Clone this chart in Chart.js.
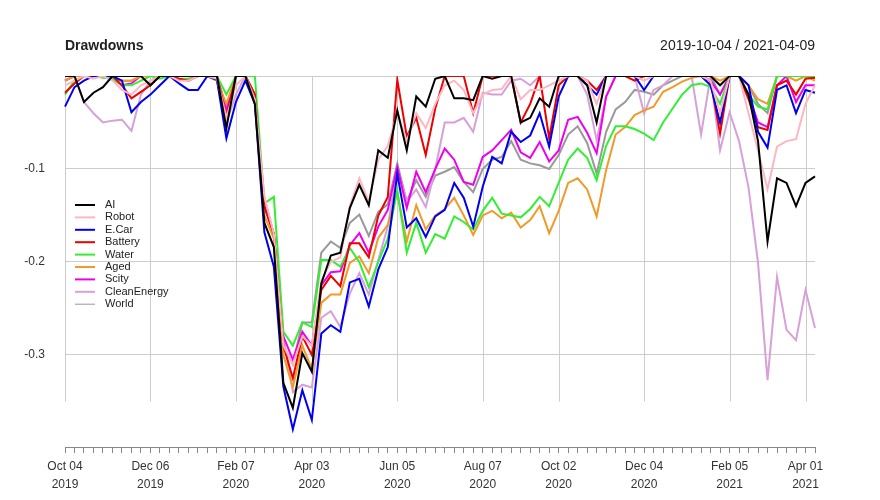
<!DOCTYPE html>
<html><head><meta charset="utf-8">
<script src="https://cdn.jsdelivr.net/npm/chart.js@4/dist/chart.umd.min.js"></script>
<style>html,body{margin:0;padding:0;background:#fff}#wrap{width:880px;height:500px}</style>
</head><body><div id="wrap"><canvas id="c" width="880" height="500"></canvas></div>
<script>
const weeks = Array.from({length:80},(_,i)=>i);
const tickIdx = [0,9,18,26,35,44,52,61,70,78];
const tickLabels = [['Oct 04','2019'],['Dec 06','2019'],['Feb 07','2020'],['Apr 03','2020'],['Jun 05','2020'],['Aug 07','2020'],['Oct 02','2020'],['Dec 04','2020'],['Feb 05','2021'],['Apr 01','2021']];
const seriesNames = ['AI','Robot','E.Car','Battery','Water','Aged','Scity','CleanEnergy','World'];
const AI = [0,0,-0.028,-0.018,-0.012,0,0,0,0,-0.01,
 0,0,0,0,0,0,0,-0.056,0,0,
 -0.03,-0.158,-0.184,-0.33,-0.357,-0.298,-0.318,-0.223,-0.193,-0.19,
 -0.142,-0.117,-0.139,-0.08,-0.088,-0.037,-0.08,-0.022,-0.033,-0.003,
 0,-0.024,-0.024,-0.026,0,-0.003,0,0,-0.05,-0.045,
 -0.024,-0.033,0,0,0,-0.01,-0.05,0,0,0,
 0,0,0,0,0,0,0,0,0,-0.01,
 0,0,-0.02,-0.07,-0.178,-0.11,-0.115,-0.14,-0.115,-0.108];
const Robot = [-0.01,-0.005,0,-0.003,0,-0.005,-0.015,-0.02,-0.01,-0.005,
 0,0,-0.005,-0.005,0,0,-0.003,-0.045,-0.01,0,
 -0.025,-0.13,-0.17,-0.29,-0.31,-0.28,-0.29,-0.22,-0.2,-0.195,
 -0.14,-0.11,-0.135,-0.09,-0.075,-0.04,-0.07,-0.04,-0.056,-0.03,
 -0.01,-0.005,-0.015,-0.04,-0.02,-0.015,-0.014,0,-0.025,-0.015,
 -0.015,-0.01,-0.005,0,0,-0.005,-0.03,0,0,0,
 0,-0.005,0,0,0,0,0,0,-0.005,-0.04,
 0,0,-0.04,-0.08,-0.122,-0.076,-0.07,-0.068,-0.03,-0.01];
const ECar = [-0.033,-0.012,-0.005,0,0,0,-0.005,-0.039,-0.028,-0.02,
 -0.01,0,-0.008,-0.015,-0.015,0,-0.004,-0.067,-0.028,-0.005,
 -0.03,-0.168,-0.205,-0.334,-0.38,-0.338,-0.37,-0.277,-0.268,-0.275,
 -0.222,-0.218,-0.248,-0.208,-0.184,-0.105,-0.163,-0.153,-0.173,-0.151,
 -0.144,-0.115,-0.131,-0.162,-0.119,-0.087,-0.094,-0.06,-0.071,-0.064,
 -0.04,-0.076,-0.022,0,0,-0.01,-0.02,0,0,0,
 0,-0.015,0,0,0,0,0,0,-0.01,-0.05,
 0,0,-0.01,-0.06,-0.077,-0.015,-0.01,-0.04,-0.015,-0.018];
const Battery = [-0.018,-0.008,0,0,0,0,-0.01,-0.024,-0.017,-0.01,
 0,0,-0.003,-0.005,0,0,0,-0.044,0,0,
 -0.02,-0.14,-0.17,-0.29,-0.325,-0.28,-0.3,-0.23,-0.215,-0.226,
 -0.18,-0.18,-0.195,-0.15,-0.13,-0.004,-0.065,-0.045,-0.085,-0.035,
 0,0,0,-0.04,0,0,0,0,-0.05,-0.03,
 0,-0.067,-0.01,0,0,-0.005,-0.015,0,0,0,
 -0.005,0,0,0,0,0,0,0,-0.005,-0.062,
 0,0,-0.025,-0.055,-0.058,-0.01,-0.005,-0.02,-0.003,-0.002];
const Water = [-0.02,-0.005,0,0,-0.002,-0.003,-0.01,-0.01,-0.005,0,
 -0.003,0,-0.003,-0.003,0,0,0,-0.02,0,0,
 0,-0.137,-0.13,-0.275,-0.29,-0.265,-0.27,-0.198,-0.198,-0.205,
 -0.185,-0.2,-0.227,-0.2,-0.175,-0.123,-0.19,-0.158,-0.19,-0.17,
 -0.175,-0.151,-0.157,-0.165,-0.145,-0.131,-0.148,-0.15,-0.152,-0.143,
 -0.13,-0.14,-0.115,-0.09,-0.078,-0.088,-0.112,-0.075,-0.054,-0.054,
 -0.057,-0.062,-0.069,-0.05,-0.035,-0.02,-0.01,-0.008,-0.012,-0.03,
 0,0,-0.02,-0.033,-0.036,0,0,0,0,0];
const Aged = [-0.005,0,0,0,0,-0.003,-0.005,-0.005,0,0,
 0,0,0,0,0,0,-0.005,-0.03,0,0,
 -0.02,-0.15,-0.175,-0.3,-0.335,-0.29,-0.315,-0.244,-0.235,-0.235,
 -0.201,-0.194,-0.212,-0.174,-0.16,-0.126,-0.178,-0.139,-0.165,-0.15,
 -0.143,-0.131,-0.15,-0.171,-0.15,-0.145,-0.153,-0.147,-0.163,-0.155,
 -0.14,-0.169,-0.145,-0.115,-0.11,-0.122,-0.151,-0.101,-0.063,-0.055,
 -0.042,-0.037,-0.033,-0.017,-0.012,-0.006,-0.002,0,0,-0.005,
 0,0,-0.01,-0.025,-0.03,0,0,-0.005,0,-0.005];
const Scity = [-0.005,0,0,0,0,-0.003,-0.01,-0.008,0,0,
 0,0,0,0,0,0,0,-0.035,0,0,
 -0.02,-0.14,-0.17,-0.28,-0.305,-0.275,-0.29,-0.225,-0.211,-0.21,
 -0.182,-0.169,-0.19,-0.162,-0.144,-0.098,-0.142,-0.103,-0.125,-0.1,
 -0.078,-0.09,-0.114,-0.117,-0.087,-0.08,-0.069,-0.058,-0.082,-0.088,
 -0.071,-0.092,-0.08,-0.047,-0.044,-0.061,-0.083,-0.022,0,0,
 0,0,0,0,0,0,0,0,-0.005,-0.02,
 0,0,-0.02,-0.05,-0.055,-0.01,0,-0.028,-0.01,-0.01];
const CleanEnergy = [-0.005,0,-0.028,-0.04,-0.05,-0.048,-0.047,-0.059,-0.02,-0.005,
 0,0,0,0,0,0,-0.005,-0.05,-0.02,0,
 -0.03,-0.13,-0.17,-0.28,-0.34,-0.332,-0.335,-0.26,-0.253,-0.27,
 -0.234,-0.212,-0.235,-0.198,-0.162,-0.1,-0.135,-0.122,-0.141,-0.1,
 -0.05,-0.05,-0.045,-0.06,-0.018,-0.02,-0.02,-0.005,-0.003,-0.01,
 0,0,0,0,0,-0.02,-0.069,-0.022,0,0,
 0,-0.04,-0.015,-0.01,0,0,0,-0.063,0,-0.08,
 -0.039,-0.07,-0.12,-0.201,-0.327,-0.216,-0.273,-0.284,-0.23,-0.271];
const World = [-0.005,0,0,0,0,-0.003,-0.005,-0.005,0,0,
 0,0,0,0,0,0,-0.005,-0.04,0,0,
 -0.02,-0.14,-0.17,-0.29,-0.31,-0.265,-0.265,-0.19,-0.178,-0.185,
 -0.158,-0.149,-0.172,-0.146,-0.138,-0.094,-0.135,-0.112,-0.13,-0.107,
 -0.103,-0.098,-0.114,-0.125,-0.1,-0.09,-0.087,-0.07,-0.09,-0.094,
 -0.096,-0.1,-0.085,-0.063,-0.054,-0.072,-0.105,-0.06,-0.036,-0.028,
 -0.015,-0.017,-0.02,-0.01,-0.005,0,0,0,0,-0.02,
 0,0,-0.01,-0.03,-0.04,0,0,0,0,0];
const seriesData = [AI,Robot,ECar,Battery,Water,Aged,Scity,CleanEnergy,World];
const colors = ['#000000','#FFB6C1','#0000EE','#EE0000','#33EE33','#F09A2A','#EE00EE','#D8A0D8','#999999'];

const FONT = 'Liberation Sans, Arial, sans-serif';
const extras = {
  id:'extras',
  beforeDatasetsDraw(ch){
    const c=ch.ctx, xs=ch.scales.x, ys=ch.scales.y, a=ch.chartArea;
    c.save(); c.strokeStyle='#cccccc'; c.lineWidth=1;
    tickIdx.forEach(i=>{const x=Math.round(xs.getPixelForValue(i))+0.5;
      c.beginPath(); c.moveTo(x,a.top); c.lineTo(x,ys.getPixelForValue(-0.35)); c.stroke();});
    c.restore();
  },
  afterDatasetsDraw(ch){
    const c=ch.ctx;
    c.save();
    c.fillStyle='#222'; c.font='bold 14px '+FONT; c.textBaseline='alphabetic';
    c.textAlign='left'; c.fillText('Drawdowns',65,50);
    c.font='14px '+FONT; c.textAlign='right'; c.fillText('2019-10-04 / 2021-04-09',815,50);
    c.font='11px '+FONT; c.textAlign='left'; c.textBaseline='middle';
    seriesNames.forEach((n,k)=>{
      const y=205+k*12.4;
      c.strokeStyle=colors[k]; c.lineWidth = k===8?1:2;
      c.beginPath(); c.moveTo(75,y); c.lineTo(95,y); c.stroke();
      c.fillStyle='#222'; c.fillText(n,105,y);
    });
    c.restore();
  }
};

new Chart(document.getElementById('c'),{
  type:'line',
  data:{labels:weeks, datasets:seriesNames.map((n,k)=>({label:n,data:seriesData[k],borderColor:colors[k],borderWidth:2,pointRadius:0,tension:0,fill:false}))},
  options:{
    responsive:false, animation:false,
    layout:{padding:{left:10,right:65,top:76,bottom:6}},
    plugins:{legend:{display:false},tooltip:{enabled:false}},
    scales:{
      x:{type:'category',offset:false,
        afterFit(s){s.height=47;},
        grid:{display:true,drawOnChartArea:false,drawTicks:true,tickLength:6,color:'#888'},
        border:{display:true,color:'#888'},
        ticks:{autoSkip:false,maxRotation:0,padding:5,color:'#333',font:{family:FONT,size:12,lineHeight:1.5},
          callback(v,i){const p=tickIdx.indexOf(i);return p>=0?tickLabels[p]:'';}}},
      y:{min:-0.399,max:0,
        afterFit(s){s.width=55;},
        border:{display:false},
        grid:{color:'#cccccc',drawTicks:false},
        ticks:{stepSize:0.1,includeBounds:false,padding:20,color:'#333',font:{family:FONT,size:12},
          callback(v){return Math.abs(v)<1e-9?'':v.toFixed(1);}}}
    }
  },
  plugins:[extras]
});
</script></body></html>
